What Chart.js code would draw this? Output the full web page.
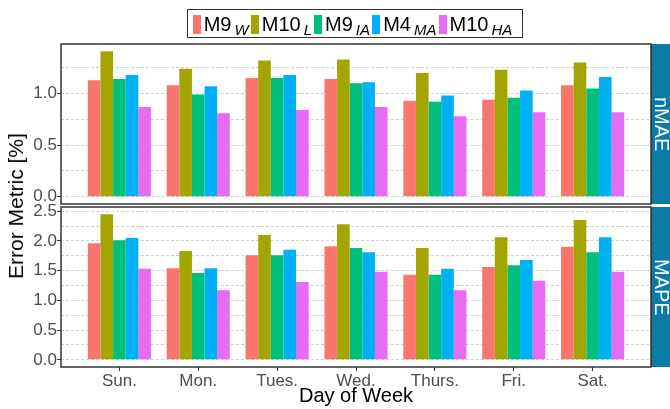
<!DOCTYPE html>
<html>
<head>
<meta charset="utf-8">
<script src="https://cdn.jsdelivr.net/npm/chart.js@4.4.0/dist/chart.umd.min.js"></script>
<style>
  body { margin: 0; background: #fff; font-family: 'Liberation Sans', Arial, sans-serif; }
  #wrap { position: relative; width: 670px; height: 409px; overflow: hidden; }
  canvas { position: absolute; left: 0; top: 0; }
  .legend { position: absolute; left: 187px; top: 9px; width: 329px; height: 26px; border: 1px solid #333;
            display: flex; align-items: center; padding-left: 5px; padding-top: 1px; }
  .item { display: flex; align-items: center; margin-right: 2.4px; }
  .key { width: 8px; height: 19px; margin-right: 2.7px; }
  .lab { font-size: 20px; line-height: 19px; color: #000; white-space: nowrap; }
  .lab sub { font-size: 15px; font-style: italic; vertical-align: -4px; line-height: 0; margin-left: 3px; }
  .ytitle { position: absolute; left: 16px; top: 206px; transform: translate(-50%, -50%) rotate(-90deg);
            font-size: 21px; white-space: nowrap; color: #000; }
  .xtitle { position: absolute; left: 356px; top: 385px; transform: translateX(-50%);
            font-size: 20px; line-height: 20px; white-space: nowrap; color: #000; }
  .strip { position: absolute; left: 651px; width: 18px; border-left: 1px solid #333; background: #0a7aa6;
           display: flex; align-items: center; justify-content: center; color: #fff; font-size: 20px; }
  .strip span { writing-mode: vertical-rl; }
</style>
</head>
<body>
<div id="wrap">
  <canvas id="nmae" width="670" height="409"></canvas>
  <canvas id="mape" width="670" height="409"></canvas>
  <div class="legend" id="legend"></div>
  <div class="ytitle">Error Metric [%]</div>
  <div class="xtitle">Day of Week</div>
  <div class="strip" style="top:44px;height:160px"><span>nMAE</span></div>
  <div class="strip" style="top:207px;height:160px"><span>MAPE</span></div>
</div>
<script>
const days = ['Sun.', 'Mon.', 'Tues.', 'Wed.', 'Thurs.', 'Fri.', 'Sat.'];
const methodMain = ['M9', 'M10', 'M9', 'M4', 'M10'];
const methodSub = ['W', 'L', 'IA', 'MA', 'HA'];
const colors = ['#F8766D', '#A3A500', '#00BF7D', '#00B0F6', '#E76BF3'];

// nMAE panel
const nmaeW  = [1.13, 1.08, 1.15, 1.14, 0.93, 0.94, 1.08];
const nmaeL  = [1.41, 1.24, 1.32, 1.33, 1.20, 1.23, 1.30];
const nmaeIA = [1.14, 0.99, 1.15, 1.10, 0.92, 0.96, 1.05];
const nmaeMA = [1.18, 1.07, 1.18, 1.11, 0.98, 1.03, 1.16];
const nmaeHA = [0.87, 0.81, 0.84, 0.87, 0.78, 0.82, 0.82];

// MAPE panel
const mapeW  = [1.96, 1.54, 1.76, 1.91, 1.43, 1.56, 1.90];
const mapeL  = [2.45, 1.83, 2.10, 2.28, 1.88, 2.06, 2.35];
const mapeIA = [2.01, 1.46, 1.76, 1.88, 1.43, 1.59, 1.81];
const mapeMA = [2.05, 1.54, 1.85, 1.81, 1.53, 1.68, 2.06];
const mapeHA = [1.53, 1.17, 1.31, 1.48, 1.17, 1.33, 1.48];

const nmaeTicks = [0, 0.25, 0.5, 0.75, 1, 1.25];
const mapeTicks = [0, 0.25, 0.5, 0.75, 1, 1.25, 1.5, 1.75, 2, 2.25, 2.5];

const family = "'Liberation Sans', Arial, sans-serif";
const isMajor = v => Math.abs(v * 2 - Math.round(v * 2)) < 1e-6;

// legend with subscripts, built from the method arrays
const legend = document.getElementById('legend');
methodMain.forEach((m, k) => {
  const it = document.createElement('div');
  it.className = 'item';
  it.innerHTML = `<span class="key" style="background:${colors[k]}"></span><span class="lab">${m}<sub>${methodSub[k]}</sub></span>`;
  legend.appendChild(it);
});

const frame = {
  id: 'frame',
  afterDatasetsDraw(chart) {
    const { ctx, chartArea: a } = chart;
    ctx.save();
    ctx.strokeStyle = '#333';
    ctx.lineWidth = 1.5;
    ctx.strokeRect(a.left, a.top, a.right - a.left, a.bottom - a.top);
    ctx.restore();
  }
};

function panel(id, series, ticks, yMin, yMax, showX, pad) {
  return new Chart(document.getElementById(id), {
    type: 'bar',
    data: {
      datasets: series.map((vals, k) => ({
        label: methodMain[k] + methodSub[k],
        data: vals.map((v, i) => ({ x: i, y: v })),
        backgroundColor: colors[k],
        categoryPercentage: 0.8,
        barPercentage: 1.0,
        borderWidth: 0
      }))
    },
    options: {
      responsive: false,
      animation: false,
      layout: { padding: pad },
      plugins: { legend: { display: false }, tooltip: { enabled: false } },
      scales: {
        x: {
          type: 'linear',
          min: -0.74,
          max: 6.74,
          offset: false,
          display: showX,
          afterBuildTicks: s => { s.ticks = days.map((d, i) => ({ value: i })); },
          afterFit: s => { s.height = showX ? 42 : 0; },
          grid: { drawOnChartArea: false, drawTicks: true, tickLength: 4, tickColor: '#333', offset: false },
          border: { display: false },
          ticks: { callback: v => days[v], font: { size: 17, family }, color: '#4d4d4d',
                   padding: 0, maxRotation: 0, autoSkip: false }
        },
        y: {
          min: yMin,
          max: yMax,
          afterBuildTicks: s => { s.ticks = ticks.map(v => ({ value: v })); },
          afterFit: s => { s.width = 61; },
          grid: {
            color: '#d0d0d0',
            lineWidth: 1,
            tickLength: 4,
            tickColor: ctx => (ctx.tick && isMajor(ctx.tick.value)) ? '#333' : 'rgba(0,0,0,0)'
          },
          border: { display: false, dash: [3, 2] },
          ticks: { callback: v => isMajor(v) ? v.toFixed(1) : '', font: { size: 17, family },
                   color: '#4d4d4d', padding: 0, autoSkip: false }
        }
      }
    },
    plugins: [frame]
  });
}

panel('nmae', [nmaeW, nmaeL, nmaeIA, nmaeMA, nmaeHA], nmaeTicks, -0.07, 1.48, false,
      { left: 0, top: 44, right: 19, bottom: 205 });
panel('mape', [mapeW, mapeL, mapeIA, mapeMA, mapeHA], mapeTicks, -0.12, 2.57, true,
      { left: 0, top: 207, right: 19, bottom: 0 });
</script>
</body>
</html>
